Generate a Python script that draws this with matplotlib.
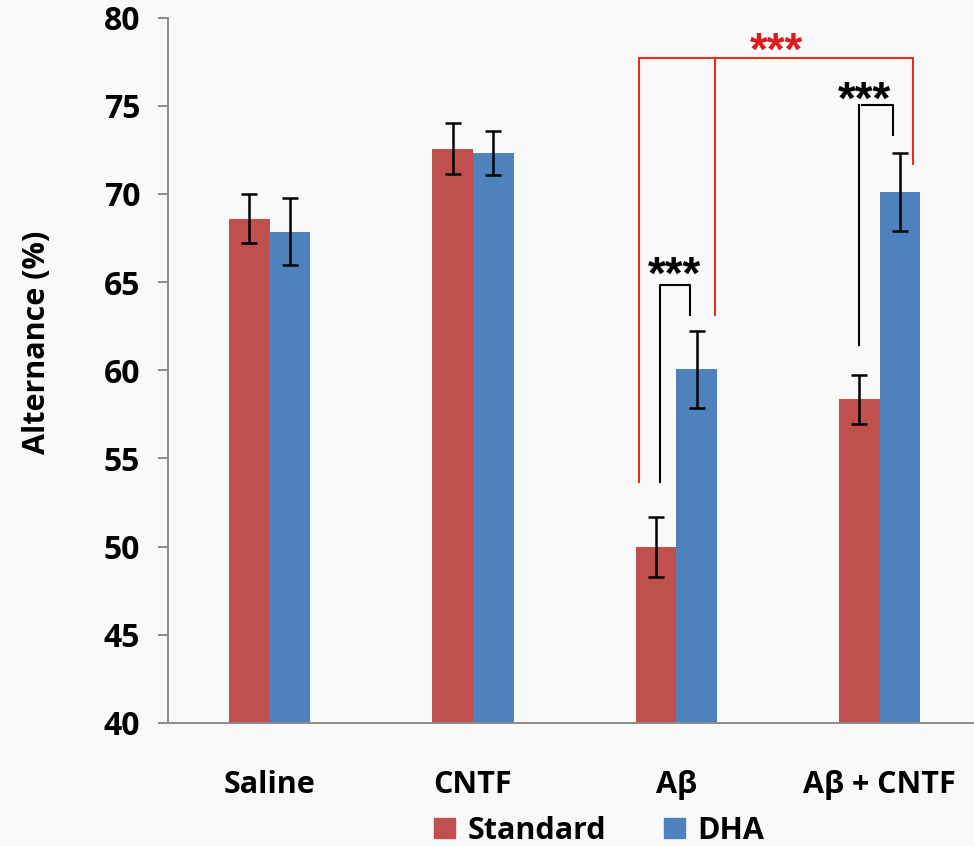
import matplotlib.pyplot as plt
from matplotlib.patches import Patch
import numpy as np

GROUPS = ["Saline", "CNTF", "Aβ", "Aβ + CNTF"]
SERIES = ["Standard", "DHA"]
STANDARD = [68.6, 72.55, 50.0, 58.35]
STANDARD_ERR = [1.4, 1.45, 1.7, 1.4]
DHA = [67.85, 72.3, 60.05, 70.1]
DHA_ERR = [1.9, 1.25, 2.2, 2.2]
Y_TICKS = [40, 45, 50, 55, 60, 65, 70, 75, 80]

RED = "#C0504D"
BLUE = "#4F81BD"
GREY = "#8c8c8c"
SIG_RED = "#E2321E"
FONT = "Open Sans"
STAR_FONT = "Liberation Sans"

plt.rcParams["font.family"] = [FONT, "DejaVu Sans"]
plt.rcParams["font.weight"] = "bold"

fig = plt.figure(figsize=(9.74, 8.46), dpi=100, facecolor="#f9f9fa")
ax = fig.add_axes([0.1725, 0.1454, 0.835, 0.8339])
ax.set_facecolor("none")

x = np.arange(len(GROUPS))
width = 0.2
ax.bar(x - width / 2, STANDARD, width, color=RED, zorder=2)
ax.bar(x + width / 2, DHA, width, color=BLUE, zorder=2)
ax.errorbar(x - width / 2, STANDARD, yerr=STANDARD_ERR, fmt="none", ecolor="black",
            elinewidth=1.8, capsize=6, capthick=1.8, zorder=3)
ax.errorbar(x + width / 2, DHA, yerr=DHA_ERR, fmt="none", ecolor="black",
            elinewidth=1.8, capsize=6, capthick=1.8, zorder=3)

ax.set_xlim(-0.5, 3.5)
ax.set_ylim(40, 80)
ax.set_yticks(Y_TICKS)
ax.set_yticklabels([str(t) for t in Y_TICKS], fontsize=23, fontweight="bold")
ax.tick_params(axis="y", length=7, width=1.4, color=GREY, pad=13)
ax.set_xticks(x)
ax.set_xticklabels(GROUPS, fontsize=22, fontweight="bold")
ax.tick_params(axis="x", length=0, pad=34)
for side in ["top", "right"]:
    ax.spines[side].set_visible(False)
for side in ["left", "bottom"]:
    ax.spines[side].set_color(GREY)
    ax.spines[side].set_linewidth(1.4)

fig.text(37 / 974, 1 - 342 / 846, "Alternance (%)", rotation=90, ha="center",
         va="center", fontsize=22, fontweight="bold")


def line(xs, ys, color):
    ax.plot(xs, ys, color=color, lw=1.5, clip_on=False, zorder=4)


def stars(xc, y, color):
    ax.text(xc, y, "***", ha="center", va="baseline", fontsize=33,
            fontweight="bold", color=color, family=STAR_FONT)


# red bracket: Abeta (both) vs Abeta + CNTF DHA
line([1.817, 1.817, 3.166, 3.166], [53.68, 77.72, 77.72, 71.7], SIG_RED)
line([2.189, 2.189], [77.72, 63.13], SIG_RED)
stars(2.494, 77.3, "#D81E1E")

# black brackets within groups
line([1.92, 1.92, 2.068, 2.068], [53.68, 64.84, 64.84, 63.13], "black")
stars(1.989, 64.65, "black")
line([2.90, 2.90], [61.43, 75.04], "black")
line([2.915, 3.065, 3.065], [75.04, 75.04, 73.34], "black")
stars(2.924, 74.52, "black")

handles = [Patch(color=RED), Patch(color=BLUE)]
fig.legend(handles, SERIES, loc="center", bbox_to_anchor=(599 / 974, 1 - 831 / 846),
           ncol=2, frameon=False, handlelength=0.7, handleheight=0.65,
           handletextpad=0.4, columnspacing=1.9, prop={"weight": "bold", "size": 22})

fig.savefig("out.png", dpi=100, facecolor=fig.get_facecolor())
